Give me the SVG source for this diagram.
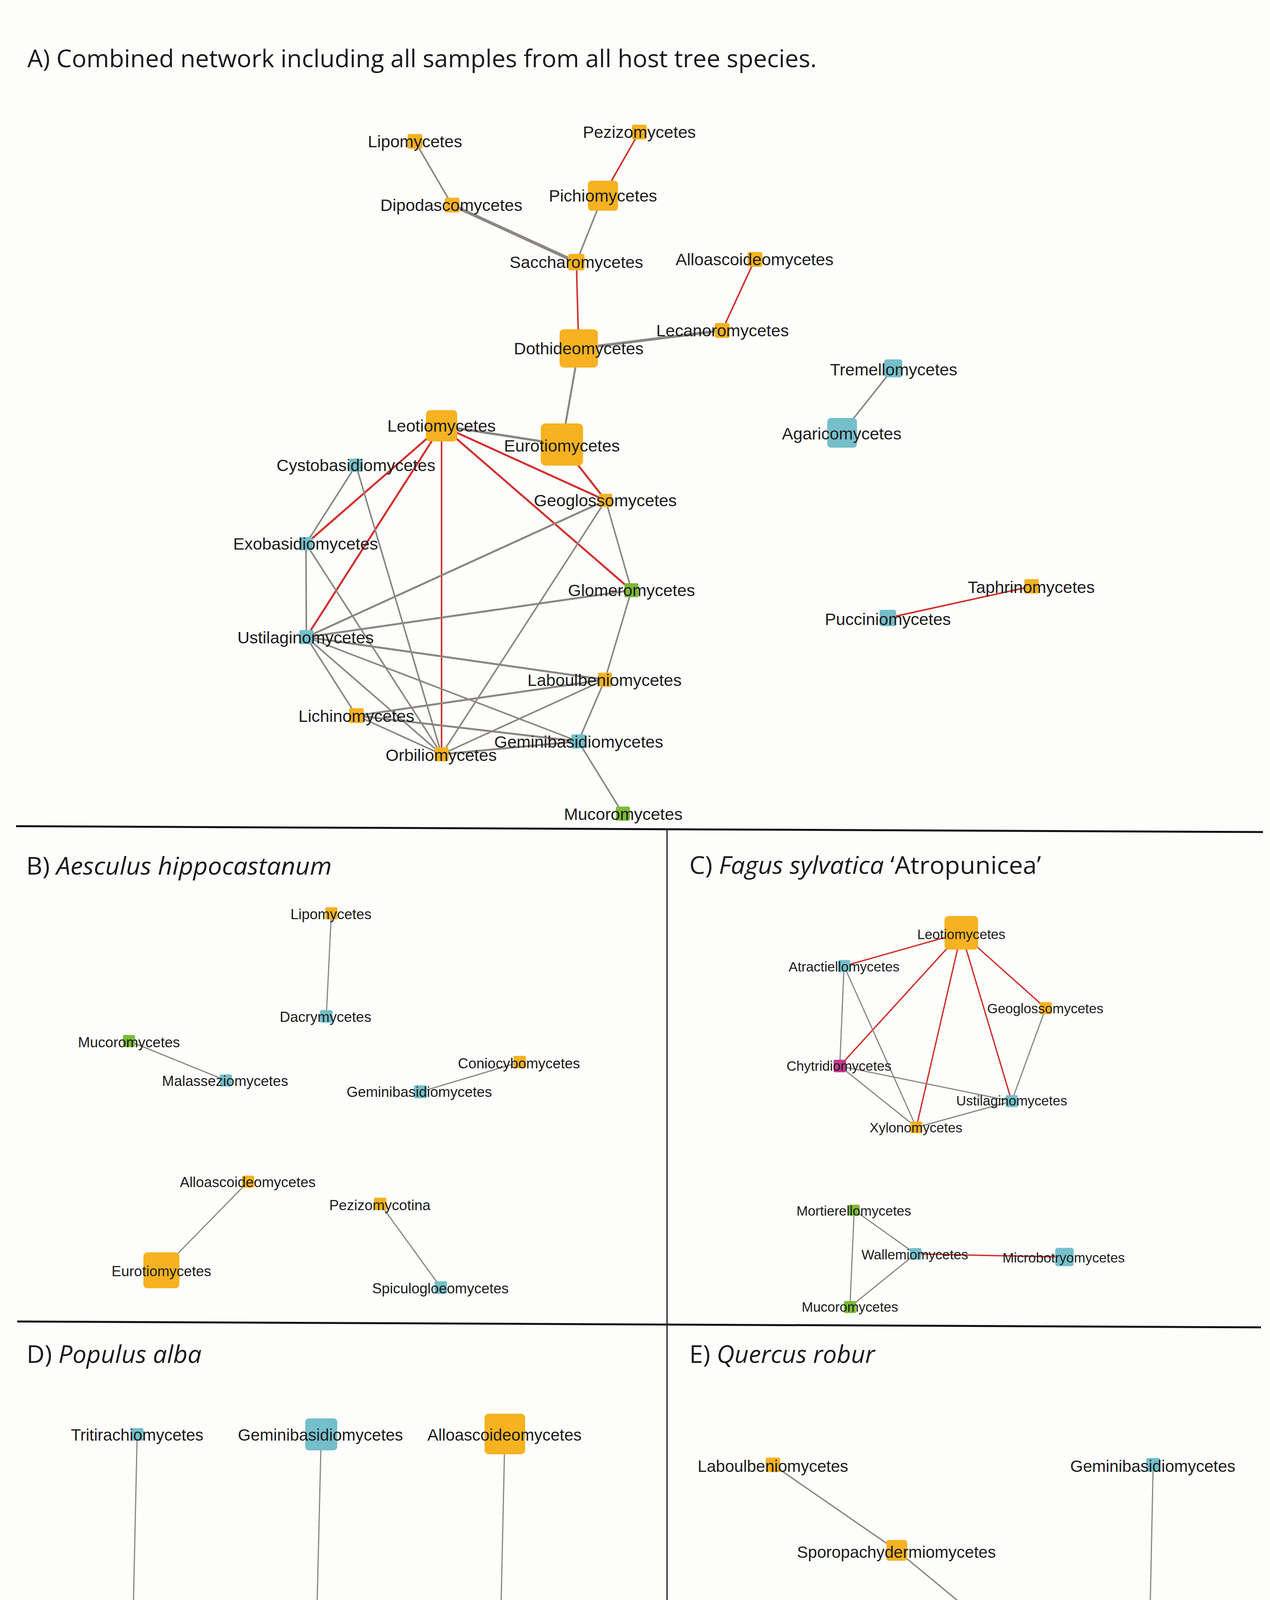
<svg xmlns="http://www.w3.org/2000/svg" width="3250" height="5079" viewBox="0 0 3250 5079">
<style>
.bg{fill:#fdfdfb}
.y{fill:#f6b220}
.c{fill:#74bfca}
.g{fill:#7cba38}
.m{fill:#c23b8c}
.la{font-family:"Liberation Sans",Arial,sans-serif;font-size:43px;fill:#1c1c1c;text-anchor:middle}
.lb{font-family:"Liberation Sans",Arial,sans-serif;font-size:37px;fill:#1c1c1c;text-anchor:middle}
.lc{font-family:"Liberation Sans",Arial,sans-serif;font-size:35px;fill:#1c1c1c;text-anchor:middle}
.ld{font-family:"Liberation Sans",Arial,sans-serif;font-size:42px;fill:#1c1c1c;text-anchor:middle}
.hd{font-family:"Open Sans","Liberation Sans",sans-serif;font-size:62px;fill:#1a1a1a}
.er{stroke:#d1312c;fill:none;stroke-linecap:round}
.eg{stroke:#8a8682;fill:none;stroke-linecap:round}
.div{stroke:#111;fill:none}
.lgh{font-family:Inter,"Liberation Sans",sans-serif;font-weight:600;fill:#1a1a1a}
.lgt{font-family:Inter,"Liberation Sans",sans-serif;font-size:44px;fill:#1a1a1a}
</style>
<rect class="bg" x="0" y="0" width="3250" height="5079"/>

<!-- headers -->
<text class="hd" x="70" y="172" textLength="2020" lengthAdjust="spacingAndGlyphs">A) Combined network including all samples from all host tree species.</text>
<text class="hd" x="67" y="2239" font-size="60" textLength="782" lengthAdjust="spacingAndGlyphs">B) <tspan font-style="italic">Aesculus hippocastanum</tspan></text>
<text class="hd" x="1764" y="2237" font-size="60" textLength="900" lengthAdjust="spacingAndGlyphs">C) <tspan font-style="italic">Fagus sylvatica</tspan> ‘Atropunicea’</text>
<text class="hd" x="68" y="3489" font-size="60" textLength="448" lengthAdjust="spacingAndGlyphs">D) <tspan font-style="italic">Populus alba</tspan></text>
<text class="hd" x="1764" y="3489" font-size="60" textLength="475" lengthAdjust="spacingAndGlyphs">E) <tspan font-style="italic">Quercus robur</tspan></text>

<!-- dividers -->
<g id="dividers">
<line class="div" x1="41" y1="2115" x2="3232" y2="2130" stroke-width="5"/>
<line class="div" x1="44" y1="3383" x2="3227" y2="3398" stroke-width="5"/>
<line class="div" x1="1707" y1="2122" x2="1707" y2="4280" stroke-width="3"/>
</g>

<g id="connectors">
<!-- Panel A -->
<line class="eg" stroke-width="4" x1="1062" y1="362" x2="1157" y2="525"/>
<line class="er" stroke-width="4" x1="1636" y1="338" x2="1543" y2="501"/>
<line class="eg" stroke-width="8" x1="1157" y1="525" x2="1475" y2="671"/>
<line class="eg" stroke-width="4" x1="1543" y1="501" x2="1475" y2="671"/>
<line class="er" stroke-width="4" x1="1475" y1="671" x2="1481" y2="892"/>
<line class="er" stroke-width="4" x1="1932" y1="664" x2="1848" y2="846"/>
<line class="eg" stroke-width="7" x1="1481" y1="892" x2="1848" y2="846"/>
<line class="eg" stroke-width="5" x1="1481" y1="892" x2="1438" y2="1138"/>
<line class="eg" stroke-width="6" x1="1130" y1="1090" x2="1438" y2="1138"/>
<line class="er" stroke-width="5" x1="1130" y1="1090" x2="783" y2="1392"/>
<line class="er" stroke-width="5" x1="1130" y1="1090" x2="784" y2="1631"/>
<line class="er" stroke-width="4" x1="1130" y1="1090" x2="1130" y2="1931"/>
<line class="er" stroke-width="5" x1="1130" y1="1090" x2="1550" y2="1281"/>
<line class="er" stroke-width="5" x1="1130" y1="1090" x2="1616" y2="1511"/>
<line class="er" stroke-width="5" x1="1438" y1="1138" x2="1550" y2="1281"/>
<line class="eg" stroke-width="4" x1="911" y1="1191" x2="783" y2="1392"/>
<line class="eg" stroke-width="4" x1="911" y1="1191" x2="1130" y2="1931"/>
<line class="eg" stroke-width="4" x1="783" y1="1392" x2="784" y2="1631"/>
<line class="eg" stroke-width="4" x1="783" y1="1392" x2="1130" y2="1931"/>
<line class="eg" stroke-width="5" x1="784" y1="1631" x2="1550" y2="1281"/>
<line class="eg" stroke-width="5" x1="784" y1="1631" x2="1616" y2="1511"/>
<line class="eg" stroke-width="5" x1="784" y1="1631" x2="1548" y2="1740"/>
<line class="eg" stroke-width="4" x1="784" y1="1631" x2="912" y2="1832"/>
<line class="eg" stroke-width="4" x1="784" y1="1631" x2="1130" y2="1931"/>
<line class="eg" stroke-width="4" x1="784" y1="1631" x2="1480" y2="1898"/>
<line class="eg" stroke-width="4" x1="1550" y1="1281" x2="1616" y2="1511"/>
<line class="eg" stroke-width="4" x1="1550" y1="1281" x2="1130" y2="1931"/>
<line class="eg" stroke-width="4" x1="1616" y1="1511" x2="1548" y2="1740"/>
<line class="eg" stroke-width="5" x1="1548" y1="1740" x2="912" y2="1832"/>
<line class="eg" stroke-width="4" x1="1548" y1="1740" x2="1130" y2="1931"/>
<line class="eg" stroke-width="4" x1="1548" y1="1740" x2="1480" y2="1898"/>
<line class="eg" stroke-width="4" x1="912" y1="1832" x2="1130" y2="1931"/>
<line class="eg" stroke-width="5" x1="912" y1="1832" x2="1480" y2="1898"/>
<line class="eg" stroke-width="5" x1="1130" y1="1931" x2="1480" y2="1898"/>
<line class="eg" stroke-width="4" x1="1480" y1="1898" x2="1594" y2="2083"/>
<line class="eg" stroke-width="4" x1="2286" y1="943" x2="2155" y2="1108"/>
<line class="er" stroke-width="4" x1="2640" y1="1501" x2="2272" y2="1582"/>
<!-- Panel B -->
<line class="eg" stroke-width="3" x1="848" y1="2338" x2="835" y2="2602"/>
<line class="eg" stroke-width="3" x1="330" y1="2665" x2="578" y2="2766"/>
<line class="eg" stroke-width="3" x1="1330" y1="2719" x2="1076" y2="2795"/>
<line class="eg" stroke-width="3" x1="635" y1="3025" x2="413" y2="3252"/>
<line class="eg" stroke-width="3" x1="973" y1="3082" x2="1128" y2="3296"/>
<!-- Panel C -->
<line class="er" stroke-width="3.5" x1="2460" y1="2388" x2="2160" y2="2473"/>
<line class="er" stroke-width="3.5" x1="2460" y1="2388" x2="2149" y2="2729"/>
<line class="er" stroke-width="3.5" x1="2460" y1="2388" x2="2345" y2="2886"/>
<line class="er" stroke-width="3.5" x1="2460" y1="2388" x2="2589" y2="2819"/>
<line class="er" stroke-width="3.5" x1="2460" y1="2388" x2="2676" y2="2581"/>
<line class="eg" stroke-width="3" x1="2160" y1="2473" x2="2149" y2="2729"/>
<line class="eg" stroke-width="3" x1="2160" y1="2473" x2="2345" y2="2886"/>
<line class="eg" stroke-width="3" x1="2149" y1="2729" x2="2345" y2="2886"/>
<line class="eg" stroke-width="3" x1="2149" y1="2729" x2="2589" y2="2819"/>
<line class="eg" stroke-width="3" x1="2345" y1="2886" x2="2589" y2="2819"/>
<line class="eg" stroke-width="3" x1="2676" y1="2581" x2="2589" y2="2819"/>
<line class="eg" stroke-width="3" x1="2186" y1="3098" x2="2343" y2="3210"/>
<line class="eg" stroke-width="3" x1="2186" y1="3098" x2="2175" y2="3346"/>
<line class="eg" stroke-width="3" x1="2343" y1="3210" x2="2175" y2="3346"/>
<line class="er" stroke-width="3.5" x1="2343" y1="3210" x2="2724" y2="3218"/>
<!-- Panel D -->
<line class="eg" stroke-width="3" x1="351" y1="3672" x2="340" y2="4168"/>
<line class="eg" stroke-width="3" x1="822" y1="3672" x2="810" y2="4167"/>
<line class="eg" stroke-width="3" x1="1292" y1="3671" x2="1281" y2="4167"/>
<!-- Panel E -->
<line class="eg" stroke-width="3.5" x1="1978" y1="3750" x2="2295" y2="3969"/>
<line class="eg" stroke-width="3.5" x1="2295" y1="3969" x2="2589" y2="4212"/>
<line class="eg" stroke-width="3" x1="2951" y1="3750" x2="2943" y2="4131"/>
</g>

<!-- Panel A nodes -->
<g id="A-Lipomycetes"><rect class="y" x="1043" y="343" width="38" height="38" rx="5"/><text class="la" x="1062" y="377">Lipomycetes</text></g>
<g id="A-Pezizomycetes"><rect class="y" x="1617" y="319" width="38" height="38" rx="5"/><text class="la" x="1636" y="353">Pezizomycetes</text></g>
<g id="A-Pichiomycetes"><rect class="y" x="1504.5" y="462.5" width="77" height="77" rx="9"/><text class="la" x="1543" y="516">Pichiomycetes</text></g>
<g id="A-Dipodascomycetes"><rect class="y" x="1138" y="506" width="38" height="38" rx="5"/><text class="la" x="1155" y="540">Dipodascomycetes</text></g>
<g id="A-Saccharomycetes"><rect class="y" x="1454" y="650" width="42" height="42" rx="5"/><text class="la" x="1475" y="686">Saccharomycetes</text></g>
<g id="A-Alloascoideomycetes"><rect class="y" x="1913" y="645" width="38" height="38" rx="5"/><text class="la" x="1931" y="679">Alloascoideomycetes</text></g>
<g id="A-Lecanoromycetes"><rect class="y" x="1829" y="827" width="38" height="38" rx="5"/><text class="la" x="1849" y="861">Lecanoromycetes</text></g>
<g id="A-Dothideomycetes"><rect class="y" x="1432" y="843" width="98" height="98" rx="11"/><text class="la" x="1481" y="907">Dothideomycetes</text></g>
<g id="A-Leotiomycetes"><rect class="y" x="1090" y="1050" width="80" height="80" rx="10"/><text class="la" x="1130" y="1105">Leotiomycetes</text></g>
<g id="A-Eurotiomycetes"><rect class="y" x="1384" y="1084" width="108" height="108" rx="12"/><text class="la" x="1438" y="1156">Eurotiomycetes</text></g>
<g id="A-Cystobasidiomycetes"><rect class="c" x="894" y="1174" width="34" height="34" rx="4"/><text class="la" x="911" y="1206">Cystobasidiomycetes</text></g>
<g id="A-Geoglossomycetes"><rect class="y" x="1533" y="1264" width="34" height="34" rx="4"/><text class="la" x="1549" y="1296">Geoglossomycetes</text></g>
<g id="A-Exobasidiomycetes"><rect class="c" x="766" y="1375" width="34" height="34" rx="4"/><text class="la" x="782" y="1407">Exobasidiomycetes</text></g>
<g id="A-Glomeromycetes"><rect class="g" x="1598" y="1493" width="36" height="36" rx="4"/><text class="la" x="1616" y="1526">Glomeromycetes</text></g>
<g id="A-Ustilaginomycetes"><rect class="c" x="766" y="1613" width="36" height="36" rx="4"/><text class="la" x="782" y="1647">Ustilaginomycetes</text></g>
<g id="A-Laboulbeniomycetes"><rect class="y" x="1530" y="1722" width="36" height="36" rx="4"/><text class="la" x="1547" y="1756">Laboulbeniomycetes</text></g>
<g id="A-Lichinomycetes"><rect class="y" x="893" y="1813" width="38" height="38" rx="4"/><text class="la" x="912" y="1848">Lichinomycetes</text></g>
<g id="A-Geminibasidiomycetes"><rect class="c" x="1462" y="1880" width="36" height="36" rx="4"/><text class="la" x="1481" y="1914">Geminibasidiomycetes</text></g>
<g id="A-Orbiliomycetes"><rect class="y" x="1112" y="1913" width="36" height="36" rx="4"/><text class="la" x="1129" y="1948">Orbiliomycetes</text></g>
<g id="A-Mucoromycetes"><rect class="g" x="1576" y="2065" width="36" height="36" rx="4"/><text class="la" x="1595" y="2099">Mucoromycetes</text></g>
<g id="A-Tremellomycetes"><rect class="c" x="2263" y="920" width="46" height="46" rx="6"/><text class="la" x="2287" y="961">Tremellomycetes</text></g>
<g id="A-Agaricomycetes"><rect class="c" x="2117" y="1070" width="76" height="76" rx="9"/><text class="la" x="2154" y="1125">Agaricomycetes</text></g>
<g id="A-Taphrinomycetes"><rect class="y" x="2621.5" y="1482.5" width="37" height="37" rx="4"/><text class="la" x="2639" y="1518">Taphrinomycetes</text></g>
<g id="A-Pucciniomycetes"><rect class="c" x="2251" y="1561" width="42" height="42" rx="5"/><text class="la" x="2272" y="1600">Pucciniomycetes</text></g>

<!-- Panel B nodes -->
<g id="B-Lipomycetes"><rect class="y" x="832.5" y="2322.5" width="31" height="31" rx="4"/><text class="lb" x="847" y="2353">Lipomycetes</text></g>
<g id="B-Dacrymycetes"><rect class="c" x="819" y="2586" width="32" height="32" rx="4"/><text class="lb" x="833" y="2616">Dacrymycetes</text></g>
<g id="B-Mucoromycetes"><rect class="g" x="314.5" y="2649.5" width="31" height="31" rx="4"/><text class="lb" x="330" y="2681">Mucoromycetes</text></g>
<g id="B-Malasseziomycetes"><rect class="c" x="562.5" y="2750.5" width="31" height="31" rx="4"/><text class="lb" x="576" y="2780">Malasseziomycetes</text></g>
<g id="B-Coniocybomycetes"><rect class="y" x="1314" y="2703" width="32" height="32" rx="4"/><text class="lb" x="1328" y="2735">Coniocybomycetes</text></g>
<g id="B-Geminibasidiomycetes"><rect class="c" x="1059.5" y="2778.5" width="33" height="33" rx="4"/><text class="lb" x="1073" y="2808">Geminibasidiomycetes</text></g>
<g id="B-Alloascoideomycetes"><rect class="y" x="619.5" y="3009.5" width="31" height="31" rx="4"/><text class="lb" x="634" y="3039">Alloascoideomycetes</text></g>
<g id="B-Pezizomycotina"><rect class="y" x="957" y="3066" width="32" height="32" rx="4"/><text class="lb" x="972" y="3098">Pezizomycotina</text></g>
<g id="B-Eurotiomycetes"><rect class="y" x="367" y="3206" width="92" height="92" rx="10"/><text class="lb" x="413" y="3267">Eurotiomycetes</text></g>
<g id="B-Spiculogloeomycetes"><rect class="c" x="1112" y="3280" width="32" height="32" rx="4"/><text class="lb" x="1127" y="3311">Spiculogloeomycetes</text></g>

<!-- Panel C nodes -->
<g id="C-Leotiomycetes"><rect class="y" x="2417" y="2345" width="86" height="86" rx="10"/><text class="lc" x="2460" y="2404">Leotiomycetes</text></g>
<g id="C-Atractiellomycetes"><rect class="c" x="2144.5" y="2457.5" width="31" height="31" rx="4"/><text class="lc" x="2160" y="2487">Atractiellomycetes</text></g>
<g id="C-Geoglossomycetes"><rect class="y" x="2660.5" y="2565.5" width="31" height="31" rx="4"/><text class="lc" x="2675" y="2594">Geoglossomycetes</text></g>
<g id="C-Chytridiomycetes"><rect class="m" x="2133" y="2713" width="32" height="32" rx="4"/><text class="lc" x="2147" y="2741">Chytridiomycetes</text></g>
<g id="C-Ustilaginomycetes"><rect class="c" x="2573.5" y="2803.5" width="31" height="31" rx="4"/><text class="lc" x="2589" y="2830">Ustilaginomycetes</text></g>
<g id="C-Xylonomycetes"><rect class="y" x="2330" y="2871" width="30" height="30" rx="4"/><text class="lc" x="2344" y="2899">Xylonomycetes</text></g>
<g id="C-Mortierellomycetes"><rect class="g" x="2172" y="3084" width="28" height="28" rx="3"/><text class="lc" x="2185" y="3112">Mortierellomycetes</text></g>
<g id="C-Wallemiomycetes"><rect class="c" x="2328" y="3195" width="30" height="30" rx="4"/><text class="lc" x="2341" y="3224">Wallemiomycetes</text></g>
<g id="C-Microbotryomycetes"><rect class="c" x="2700.5" y="3194.5" width="47" height="47" rx="6"/><text class="lc" x="2722" y="3232">Microbotryomycetes</text></g>
<g id="C-Mucoromycetes"><rect class="g" x="2159.5" y="3330.5" width="31" height="31" rx="4"/><text class="lc" x="2175" y="3358">Mucoromycetes</text></g>

<!-- Panel D nodes -->
<g id="D-Tritirachiomycetes"><rect class="c" x="335" y="3656" width="32" height="32" rx="4"/><text class="ld" x="351" y="3688">Tritirachiomycetes</text></g>
<g id="D-Geminibasidiomycetes"><rect class="c" x="781" y="3631" width="82" height="82" rx="9"/><text class="ld" x="820" y="3688">Geminibasidiomycetes</text></g>
<g id="D-Alloascoideomycetes"><rect class="y" x="1240" y="3619" width="104" height="104" rx="11"/><text class="ld" x="1291" y="3688">Alloascoideomycetes</text></g>
<g id="D-Wallemiomycetes"><rect class="c" x="302" y="4130" width="76" height="76" rx="9"/><text class="ld" x="340" y="4184">Wallemiomycetes</text></g>
<g id="D-Umbelopsidomycetes"><rect class="g" x="768" y="4125" width="84" height="84" rx="9"/><text class="ld" x="810" y="4184">Umbelopsidomycetes</text></g>
<g id="D-Geoglossomycetes"><rect class="y" x="1249" y="4135" width="64" height="64" rx="7"/><text class="ld" x="1282" y="4184">Geoglossomycetes</text></g>

<!-- Panel E nodes -->
<g id="E-Laboulbeniomycetes"><rect class="y" x="1959.5" y="3731.5" width="37" height="37" rx="4"/><text class="ld" x="1978" y="3768">Laboulbeniomycetes</text></g>
<g id="E-Geminibasidiomycetes"><rect class="c" x="2933.5" y="3732.5" width="35" height="35" rx="4"/><text class="ld" x="2950" y="3768">Geminibasidiomycetes</text></g>
<g id="E-Sporopachydermiomycetes"><rect class="y" x="2268.5" y="3942.5" width="53" height="53" rx="6"/><text class="ld" x="2294" y="3988">Sporopachydermiomycetes</text></g>
<g id="E-Mortierellomycetes"><rect class="g" x="2926" y="4114" width="34" height="34" rx="4"/><text class="ld" x="2942" y="4149">Mortierellomycetes</text></g>
<g id="E-Glomeromycetes"><rect class="g" x="2538" y="4161" width="102" height="102" rx="11"/><text class="ld" x="2588" y="4229">Glomeromycetes</text></g>

<!-- Legend -->
<g id="legend">
<rect x="251" y="4388" width="2817" height="642" fill="#ffffff" stroke="#9a9a9a" stroke-width="3"/>
<text class="lgh" x="334" y="4519" font-size="60" textLength="214" lengthAdjust="spacingAndGlyphs">Legend</text>
<text class="lgh" x="334" y="4628" font-size="44" textLength="723" lengthAdjust="spacingAndGlyphs">Edge Color (sign of correlation):</text>
<line x1="334" y1="4692" x2="435" y2="4692" stroke="#d63a4a" stroke-width="9"/>
<text class="lgt" x="461" y="4709" textLength="563" lengthAdjust="spacingAndGlyphs">Red – negative correlation</text>
<line x1="334" y1="4767" x2="435" y2="4767" stroke="#858585" stroke-width="9"/>
<text class="lgt" x="461" y="4784" textLength="561" lengthAdjust="spacingAndGlyphs">Grey – positive correlation</text>
<text class="lgh" x="1238" y="4623" font-size="44" textLength="553" lengthAdjust="spacingAndGlyphs">Node Fill Color (phylum):</text>
<ellipse cx="1271" cy="4688" rx="29" ry="31" fill="#f7e44a"/>
<text class="lgt" x="1363" y="4701" textLength="449" lengthAdjust="spacingAndGlyphs">Yellow – Ascomycota</text>
<ellipse cx="1271" cy="4764" rx="29" ry="31" fill="#4db3d4"/>
<text class="lgt" x="1363" y="4777" textLength="471" lengthAdjust="spacingAndGlyphs">Cyan – Basidiomycota</text>
<ellipse cx="1271" cy="4841" rx="29" ry="31" fill="#c9408f"/>
<text class="lgt" x="1363" y="4853" textLength="591" lengthAdjust="spacingAndGlyphs">Magenta – Chytridiomycota</text>
<ellipse cx="1271" cy="4916" rx="29" ry="31" fill="#8dc43c"/>
<text class="lgt" x="1363" y="4929" textLength="599" lengthAdjust="spacingAndGlyphs">Lime green – Mucoromycota</text>
<text class="lgh" x="2143" y="4623" font-size="44" textLength="842" lengthAdjust="spacingAndGlyphs">Node Size (mean relative abundance):</text>
<circle cx="2191" cy="4713" r="36" fill="#111111"/>
<text class="lgt" x="2267" y="4702" textLength="648" lengthAdjust="spacingAndGlyphs">Node size increases with mean</text>
<text class="lgt" x="2267" y="4755" textLength="663" lengthAdjust="spacingAndGlyphs">relative abundance of the taxon</text>
</g>
</svg>
